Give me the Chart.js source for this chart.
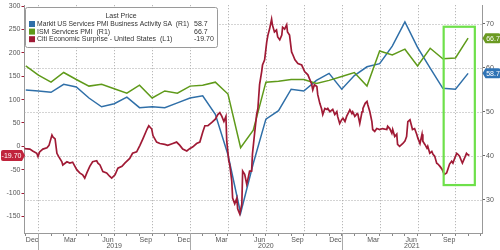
<!DOCTYPE html>
<html><head><meta charset="utf-8">
<script src="https://cdn.jsdelivr.net/npm/chart.js@4/dist/chart.umd.min.js"></script>
<style>html,body{margin:0;padding:0;background:#fff;}canvas{display:block;}</style>
</head><body>
<canvas id="c" width="500" height="250"></canvas>
<script>
// ---------- data ----------
const seriesNames = [
  'Markit US Services PMI Business Activity SA  (R1)',
  'ISM Services PMI  (R1)',
  'Citi Economic Surprise - United States  (L1)'
];
const legendTitle = 'Last Price';
const pmiMonths = ['2018-11','2018-12','2019-01','2019-02','2019-03','2019-04','2019-05','2019-06','2019-07','2019-08','2019-09','2019-10','2019-11','2019-12',
  '2020-01','2020-02','2020-03','2020-04','2020-05','2020-06','2020-07','2020-08','2020-09','2020-10','2020-11','2020-12',
  '2021-01','2021-02','2021-03','2021-04','2021-05','2021-06','2021-07','2021-08','2021-09','2021-10'];
const markitValues = [54.9,54.7,54.4,56.2,55.6,53.1,51.1,51.8,53.3,50.9,51.1,50.9,52.0,53.1,
  53.6,49.4,40.2,26.9,38.2,48.3,50.2,55.1,54.7,57.1,58.7,55.1,
  58.2,60.2,60.9,64.9,70.4,64.6,59.9,55.3,55.1,58.7];
const ismValues = [60.4,58.3,56.7,58.9,57.3,55.8,56.2,55.2,54.2,56.0,53.1,54.7,54.2,55.8,
  56.0,56.7,54.0,41.8,45.8,56.7,56.9,57.3,57.3,56.4,57.1,58.0,
  58.9,55.8,63.8,62.9,64.2,60.4,64.4,62.0,62.2,66.7];
const citiDates = ['2018-11-26','2018-11-29','2018-12-11','2018-12-18','2018-12-28','2018-12-31','2019-01-04','2019-01-12','2019-01-22','2019-01-27',
  '2019-02-03','2019-02-05','2019-02-10','2019-02-14','2019-02-18','2019-02-25','2019-02-27','2019-03-09','2019-03-16','2019-03-23',
  '2019-04-02','2019-04-09','2019-04-16','2019-04-21','2019-04-26','2019-05-03','2019-05-10','2019-05-20','2019-05-23','2019-05-28',
  '2019-06-04','2019-06-13','2019-06-20','2019-06-25','2019-07-03','2019-07-10','2019-07-20','2019-07-27','2019-08-08','2019-08-15',
  '2019-08-25','2019-09-02','2019-09-09','2019-09-19','2019-09-23','2019-09-30','2019-10-03','2019-10-12','2019-10-20','2019-11-01',
  '2019-11-08','2019-11-20','2019-11-29','2019-12-07','2019-12-14','2019-12-24','2019-12-31','2020-01-08','2020-01-17','2020-01-25',
  '2020-02-01','2020-02-06','2020-02-13','2020-02-22','2020-03-01','2020-03-07','2020-03-12','2020-03-17','2020-03-22','2020-03-27',
  '2020-03-29','2020-04-03','2020-04-05','2020-04-10','2020-04-12','2020-04-17','2020-04-22','2020-04-24','2020-04-29','2020-05-04',
  '2020-05-06','2020-05-11','2020-05-16','2020-05-18','2020-05-23','2020-05-28','2020-05-30','2020-06-04','2020-06-09','2020-06-12',
  '2020-06-16','2020-06-21','2020-06-23','2020-06-28','2020-07-03','2020-07-06','2020-07-10','2020-07-15','2020-07-17','2020-07-22',
  '2020-07-27','2020-07-30','2020-08-04','2020-08-09','2020-08-11','2020-08-16','2020-08-21','2020-08-23','2020-08-28','2020-09-02',
  '2020-09-05','2020-09-10','2020-09-17','2020-09-26','2020-10-03','2020-10-11','2020-10-20','2020-10-23','2020-10-27','2020-11-02',
  '2020-11-04','2020-11-09','2020-11-13','2020-11-16','2020-11-21','2020-11-26','2020-11-28','2020-12-03','2020-12-10','2020-12-15',
  '2020-12-20','2020-12-22','2020-12-27','2021-01-01','2021-01-04','2021-01-09','2021-01-13','2021-01-21','2021-01-26','2021-01-28',
  '2021-02-02','2021-02-07','2021-02-09','2021-02-13','2021-02-18','2021-02-20','2021-02-25','2021-03-01','2021-03-03','2021-03-08',
  '2021-03-13','2021-03-15','2021-03-20','2021-03-25','2021-04-01','2021-04-08','2021-04-18','2021-04-20','2021-04-25','2021-04-30',
  '2021-05-02','2021-05-07','2021-05-12','2021-05-14','2021-05-19','2021-05-27','2021-06-01','2021-06-05','2021-06-08','2021-06-13',
  '2021-06-17','2021-06-19','2021-06-24','2021-06-29','2021-07-02','2021-07-07','2021-07-12','2021-07-14','2021-07-19','2021-07-24',
  '2021-07-26','2021-07-31','2021-08-05','2021-08-08','2021-08-12','2021-08-17','2021-08-20','2021-08-25','2021-08-30','2021-09-01',
  '2021-09-05','2021-09-10','2021-09-13','2021-09-17','2021-09-22','2021-09-25','2021-09-29','2021-10-04','2021-10-07','2021-10-11',
  '2021-10-16','2021-10-18','2021-10-23','2021-10-28','2021-10-30','2021-11-04'];
const citiValues = [-1,-5,-6,-10,-15,-22,-12,-6,-3,2,
  24,20,16,-15,-22,-33,-40,-33,-36,-34,
  -50,-57,-61,-68,-57,-43,-33,-31,-36,-40,
  -54,-57,-64,-68,-61,-47,-43,-36,-26,-15,
  -12,2,16,37,44,37,23,9,6,4,
  2,6,9,2,-6,-10,-5,-1,6,9,
  30,44,44,51,58,68,72,64,53,64,
  11,-32,-38,-74,-111,-123,-111,-134,-145,-124,
  -53,-60,-81,-74,-53,-53,-17,26,68,81,
  132,160,174,185,223,238,251,272,260,245,
  249,234,228,238,255,251,260,245,238,202,
  196,185,177,174,160,153,134,121,132,128,
  111,92,81,68,81,79,81,74,79,68,
  74,64,49,57,60,53,64,78,70,74,
  64,70,68,49,74,81,92,96,89,74,
  53,36,32,38,36,38,36,43,38,28,
  36,21,26,4,0,6,11,21,53,57,
  43,36,38,26,17,6,26,11,4,-4,
  0,-15,-11,-17,-21,-36,-38,-43,-49,-53,
  -60,-57,-49,-38,-32,-36,-26,-15,-17,-21,
  -32,-36,-26,-15,-17,-19.70];
const leftTicks = [300,250,200,150,100,50,0,-50,-100,-150];
const rightTicks = [70,60,50,40,30];
const quarterLabels = ['Dec','Mar','Jun','Sep'];
const yearLabels = ['2019','2020','2021'];
const highlightWindow = {from: '2021-09-03', to: '2021-11-17', top: 69.3, bottom: 33.3};

// ---------- styling ----------
const BLUE = '#2f6fa8', GREEN = '#5f9a1a', RED = '#a01a35';
const FONT = '"Liberation Sans", Arial, sans-serif';
Chart.defaults.font.family = FONT;
Chart.defaults.font.size = 7;
Chart.defaults.color = '#555';

function toM(s) {
  const p = s.split('-').map(Number);
  if (p.length === 2) return (p[0] - 2018) * 12 + (p[1] - 12) + 1; // month-end
  const dim = new Date(p[0], p[1], 0).getDate();
  return (p[0] - 2018) * 12 + (p[1] - 12) + (p[2] - 1) / dim;
}
const X_MIN = -0.1, X_MAX = 36.1;

function tag(ctx, tipX, y, bodyW, h, color, text, side) {
  ctx.beginPath();
  const r = 2;
  let x0, x1;
  if (side === 'right') {
    x0 = tipX + 3; x1 = x0 + bodyW;
    ctx.moveTo(tipX, y);
    ctx.lineTo(x0, y - h / 2);
    ctx.lineTo(x1 - r, y - h / 2);
    ctx.quadraticCurveTo(x1, y - h / 2, x1, y - h / 2 + r);
    ctx.lineTo(x1, y + h / 2 - r);
    ctx.quadraticCurveTo(x1, y + h / 2, x1 - r, y + h / 2);
    ctx.lineTo(x0, y + h / 2);
  } else {
    x1 = tipX - 3; x0 = x1 - bodyW;
    ctx.moveTo(tipX, y);
    ctx.lineTo(x1, y - h / 2);
    ctx.lineTo(x0 + r, y - h / 2);
    ctx.quadraticCurveTo(x0, y - h / 2, x0, y - h / 2 + r);
    ctx.lineTo(x0, y + h / 2 - r);
    ctx.quadraticCurveTo(x0, y + h / 2, x0 + r, y + h / 2);
    ctx.lineTo(x1, y + h / 2);
  }
  ctx.closePath();
  ctx.fillStyle = color; ctx.fill();
  ctx.fillStyle = '#fff'; ctx.textAlign = 'center'; ctx.textBaseline = 'middle';
  ctx.fillText(text, (x0 + x1) / 2, y + 0.5);
}

const gridPlugin = {
  id: 'dotgrid',
  beforeDatasetsDraw(chart) {
    const {ctx, chartArea: ca, scales} = chart;
    const x = scales.x, yR = scales.yR;
    ctx.save();
    ctx.strokeStyle = '#a8a8a8'; ctx.lineWidth = 1; ctx.setLineDash([1, 2]);
    for (let m = 1; m < X_MAX; m += 3) {
      const px = Math.round(x.getPixelForValue(m)) + 0.5;
      ctx.beginPath(); ctx.moveTo(px, ca.top); ctx.lineTo(px, ca.bottom); ctx.stroke();
    }
    rightTicks.forEach(v => {
      const py = Math.round(yR.getPixelForValue(v)) + 0.5;
      ctx.beginPath(); ctx.moveTo(ca.left, py); ctx.lineTo(ca.right, py); ctx.stroke();
    });
    ctx.restore();
  }
};

const decor = {
  id: 'decor',
  afterDraw(chart) {
    const {ctx, chartArea: ca, scales} = chart;
    const x = scales.x, yL = scales.yL, yR = scales.yR;
    ctx.save();
    ctx.font = '7px ' + FONT;
    ctx.fillStyle = '#555'; ctx.strokeStyle = '#aaa'; ctx.lineWidth = 1;
    yearLabels.forEach((yl) => {
      const s = toM(yl + '-01-01');
      const e = Math.min(s + 12, X_MAX);
      const xs = Math.round(x.getPixelForValue(s)) + 0.5;
      ctx.beginPath(); ctx.moveTo(xs, ca.bottom); ctx.lineTo(xs, 250); ctx.stroke();
      const xc = (x.getPixelForValue(s) + x.getPixelForValue(e)) / 2;
      ctx.textAlign = 'center'; ctx.textBaseline = 'middle';
      ctx.fillText(yl, xc, 246);
    });
    // highlight rectangle
    const hx1 = x.getPixelForValue(toM(highlightWindow.from));
    const hx2 = x.getPixelForValue(toM(highlightWindow.to));
    const hy1 = yR.getPixelForValue(highlightWindow.top);
    const hy2 = yR.getPixelForValue(highlightWindow.bottom);
    ctx.strokeStyle = '#6ee04a'; ctx.lineWidth = 2.2;
    ctx.strokeRect(hx1, hy1, hx2 - hx1, hy2 - hy1);
    // legend box
    ctx.fillStyle = '#fff'; ctx.strokeStyle = '#9a9a9a'; ctx.lineWidth = 1;
    ctx.beginPath();
    if (ctx.roundRect) ctx.roundRect(25.5, 7.5, 192, 40, 2); else ctx.rect(25.5, 7.5, 192, 40);
    ctx.fill(); ctx.stroke();
    ctx.fillStyle = '#333'; ctx.textAlign = 'center'; ctx.textBaseline = 'middle';
    ctx.fillText(legendTitle, 121, 16);
    const rows = [
      [seriesNames[0], BLUE, markitValues[markitValues.length - 1].toFixed(1)],
      [seriesNames[1], GREEN, ismValues[ismValues.length - 1].toFixed(1)],
      [seriesNames[2], RED, citiValues[citiValues.length - 1].toFixed(2)]
    ];
    rows.forEach((r, i) => {
      const yy = 24 + i * 7.6;
      ctx.fillStyle = r[1]; ctx.fillRect(29, yy - 3, 6, 6);
      ctx.fillStyle = '#333'; ctx.textAlign = 'left';
      ctx.fillText(r[0], 37, yy, 152);
      ctx.fillText(r[2], 194, yy);
    });
    // badges
    tag(ctx, ca.left + 0.5, yL.getPixelForValue(citiValues[citiValues.length - 1]), 21, 11, '#c0243c', citiValues[citiValues.length - 1].toFixed(2), 'left');
    tag(ctx, ca.right + 0.5, yR.getPixelForValue(ismValues[ismValues.length - 1]), 15, 10, '#6b9a22', ismValues[ismValues.length - 1].toFixed(1), 'right');
    tag(ctx, ca.right + 0.5, yR.getPixelForValue(markitValues[markitValues.length - 1]), 15, 10, '#2f73b5', markitValues[markitValues.length - 1].toFixed(1), 'right');
    ctx.restore();
  }
};

new Chart(document.getElementById('c'), {
  type: 'line',
  data: {
    datasets: [
      {label: seriesNames[2], data: citiDates.map((d, i) => ({x: toM(d), y: citiValues[i]})), yAxisID: 'yL',
       borderColor: RED, borderWidth: 1.7, pointRadius: 0, tension: 0},
      {label: seriesNames[1], data: pmiMonths.map((d, i) => ({x: toM(d), y: ismValues[i]})), yAxisID: 'yR',
       borderColor: GREEN, borderWidth: 1.5, pointRadius: 0, tension: 0},
      {label: seriesNames[0], data: pmiMonths.map((d, i) => ({x: toM(d), y: markitValues[i]})), yAxisID: 'yR',
       borderColor: BLUE, borderWidth: 1.5, pointRadius: 0, tension: 0}
    ]
  },
  options: {
    responsive: false, animation: false, devicePixelRatio: 1,
    layout: {padding: {top: 0, left: 0, right: 0, bottom: 0}},
    plugins: {legend: {display: false}, tooltip: {enabled: false}},
    scales: {
      x: {
        type: 'linear', position: 'bottom', min: X_MIN, max: X_MAX,
        afterBuildTicks: s => { s.ticks = Array.from({length: 37}, (_, i) => ({value: i})); },
        afterFit: s => { s.height = 17; },
        ticks: {autoSkip: false, maxRotation: 0, minRotation: 0, padding: 0, labelOffset: 6.3, color: '#555',
          callback: v => (v % 3 === 0 && v < 36) ? quarterLabels[(v / 3) % 4] : ''},
        grid: {drawOnChartArea: false, tickLength: 3, tickColor: '#888', lineWidth: 1},
        border: {display: true, color: '#999'}
      },
      yL: {
        type: 'linear', position: 'left', min: -185.6, max: 302.1,
        afterBuildTicks: s => { s.ticks = leftTicks.slice().sort((a, b) => a - b).map(v => ({value: v})); },
        afterFit: s => { s.width = 24.5; },
        ticks: {padding: 1, color: '#555'},
        grid: {drawOnChartArea: false, tickLength: 3, tickColor: RED},
        border: {display: true, color: '#999'}
      },
      yR: {
        type: 'linear', position: 'right', min: 22.4, max: 74.2,
        afterBuildTicks: s => { s.ticks = rightTicks.slice().sort((a, b) => a - b).map(v => ({value: v})); },
        afterFit: s => { s.width = 18; },
        ticks: {padding: 1, color: '#555'},
        grid: {drawOnChartArea: false, tickLength: 3, tickColor: '#666'},
        border: {display: true, color: '#999'}
      }
    }
  },
  plugins: [gridPlugin, decor]
});
</script>
</body></html>
